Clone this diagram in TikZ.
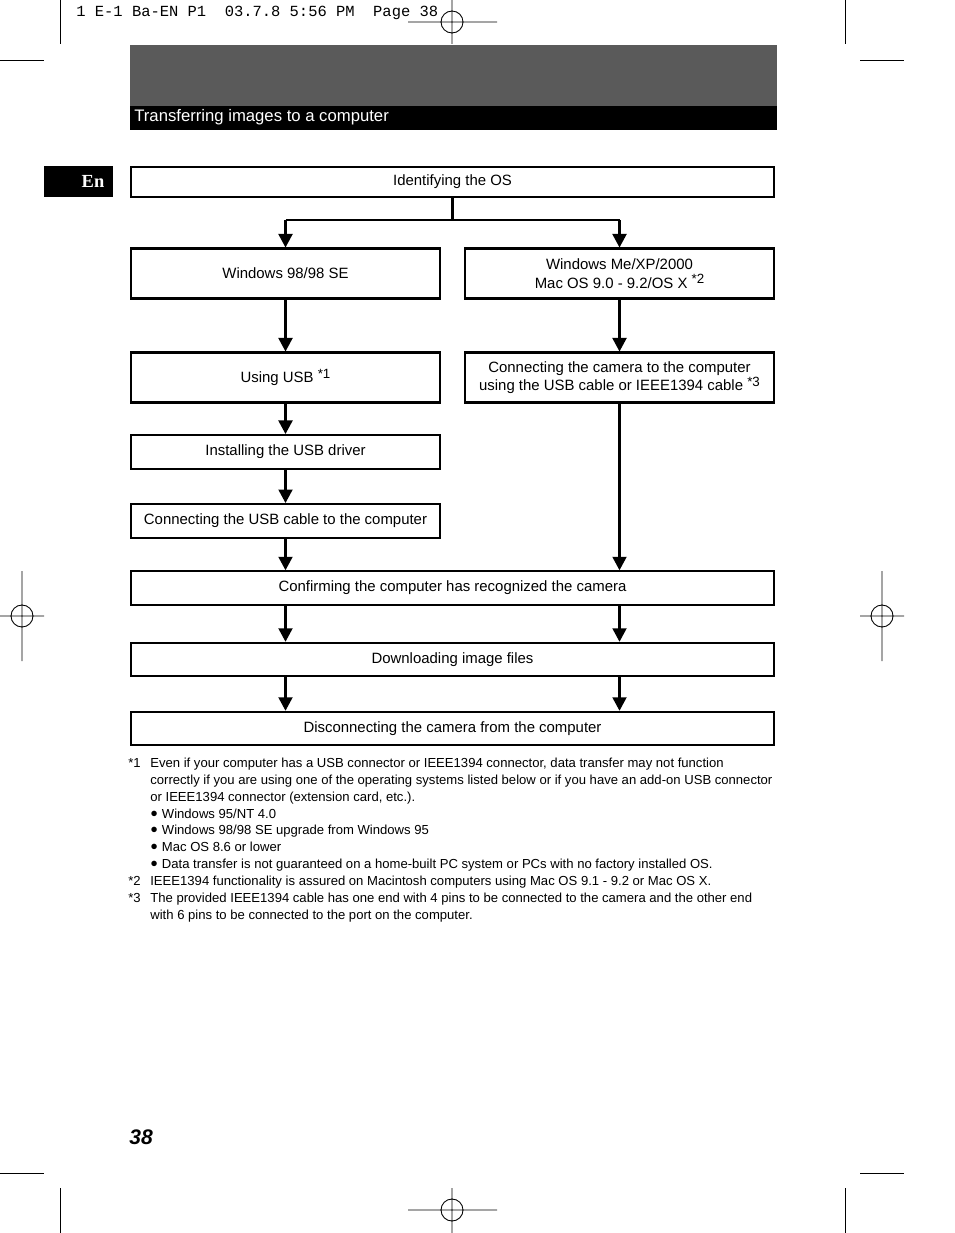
\documentclass[tikz,border=0pt]{standalone}
\usepackage{fontspec}
\setmainfont{Liberation Sans}
\newfontfamily\monofont{Liberation Mono}
\newfontfamily\enfont{Liberation Serif}
\usetikzlibrary{arrows.meta}
\definecolor{bandgray}{HTML}{5A5A5A}
\newcommand\fnmark[1]{\raisebox{0.55ex}{\fontsize{7.6}{8}\selectfont#1}}
\newcommand\dotmark{{\fontsize{7.2}{8}\selectfont\raisebox{0.1ex}{●}}\hspace{0.3em}}

\begin{document}
\begin{tikzpicture}[x=0.02cm, y=-0.02cm,
    box/.style={draw, line width=1.15pt, inner sep=0pt, align=center,
        font=\fontsize{8.5}{10.5}\selectfont},
    halfbox/.style={box, minimum width=6.2cm, minimum height=1cm},
    fullbox/.style={box, minimum width=12.86cm, minimum height=0.67cm},
    flow/.style={line width=1.15pt, -{Triangle[width=0.28cm, length=0.27cm]}},
    crop/.style={line width=0.5pt},
    note/.style={anchor=base west, inner sep=0pt, font=\fontsize{7.45}{8}\selectfont}]
    \useasboundingbox (0,0) rectangle (954,1233);

    % crop marks
    \draw[crop] (60,0) -- (60,44) (0,60) -- (44,60);
    \draw[crop] (845,0) -- (845,44) (860,60) -- (904,60);
    \draw[crop] (60,1188) -- (60,1233) (0,1173) -- (44,1173);
    \draw[crop] (845,1188) -- (845,1233) (860,1173) -- (904,1173);
    % registration marks
    \draw[crop] (408,22) -- (497,22) (452,0) -- (452,44) (452,22) circle (0.22cm);
    \draw[crop] (408,1210) -- (497,1210) (452,1188) -- (452,1233) (452,1210) circle (0.22cm);
    \draw[crop] (22,571) -- (22,661) (0,616) -- (44,616) (22,616) circle (0.22cm);
    \draw[crop] (882,571) -- (882,661) (860,616) -- (904,616) (882,616) circle (0.22cm);
    \node[anchor=base west, inner sep=0pt, font=\monofont\fontsize{8.8}{10}\selectfont]
        (slug) at (76,17) {1 E-1 Ba-EN P1\ \ 03.7.8 5:56 PM\ \ Page 38};

    % page heading
    \fill[bandgray] (130,45) rectangle (777,106);
    \fill[black] (130,106) rectangle (777,130);
    \node[anchor=base west, inner sep=0pt, text=white, font=\fontsize{9.5}{11}\selectfont]
        (title) at (134,122) {Transferring images to a computer};
    \fill[black] (44,166) rectangle (113,197);
    \node[anchor=base, inner sep=0pt, text=white, font=\enfont\bfseries\fontsize{10.5}{12}\selectfont]
        (lang) at (93,188) {En};

    % flow chart
    \node[fullbox, minimum height=0.6cm] (os) at (452.5,182) {Identifying the OS};
    \node[halfbox] (win98) at (285.5,273.5) {Windows 98/98 SE};
    \node[halfbox] (winme) at (619.5,273.5) {Windows Me/XP/2000\\Mac OS 9.0 - 9.2/OS X \fnmark{*2}};
    \node[halfbox] (usb) at (285.5,377.5) {Using USB \fnmark{*1}};
    \node[halfbox] (camera) at (619.5,377.5) {Connecting the camera to the computer\\using the USB cable or IEEE1394 cable \fnmark{*3}};
    \node[halfbox, minimum height=0.68cm] (driver) at (285.5,452) {Installing the USB driver};
    \node[halfbox, minimum height=0.68cm] (cable) at (285.5,521) {Connecting the USB cable to the computer};
    \node[fullbox] (confirm) at (452.5,588) {Confirming the computer has recognized the camera};
    \node[fullbox] (download) at (452.5,659.5) {Downloading image files};
    \node[fullbox] (disconnect) at (452.5,728.5) {Disconnecting the camera from the computer};

    \draw[line width=1.15pt] (os.south) -- ++(0,22) coordinate (split);
    \draw[line width=1.15pt] (split -| win98) -- (split -| winme);
    \draw[flow] (split -| win98) -- (win98.north);
    \draw[flow] (split -| winme) -- (winme.north);
    \draw[flow] (win98) -- (usb);
    \draw[flow] (usb) -- (driver);
    \draw[flow] (driver) -- (cable);
    \draw[flow] (cable.south) -- (confirm.north -| cable);
    \draw[flow] (winme) -- (camera);
    \draw[flow] (camera.south) -- (confirm.north -| camera);
    \draw[flow] (confirm.south -| cable) -- (download.north -| cable);
    \draw[flow] (confirm.south -| camera) -- (download.north -| camera);
    \draw[flow] (download.south -| cable) -- (disconnect.north -| cable);
    \draw[flow] (download.south -| camera) -- (disconnect.north -| camera);

    % footnotes
    \node[note] (m1) at (128,767) {*1};
    \node[note] (n1a) at (150,767) {Even if your computer has a USB connector or IEEE1394 connector, data transfer may not function};
    \node[note] (n1b) at (150,784) {correctly if you are using one of the operating systems listed below or if you have an add-on USB connector};
    \node[note] (n1c) at (150,801) {or IEEE1394 connector (extension card, etc.).};
    \node[note] (b1) at (150,818) {\dotmark Windows 95/NT 4.0};
    \node[note] (b2) at (150,834) {\dotmark Windows 98/98 SE upgrade from Windows 95};
    \node[note] (b3) at (150,851) {\dotmark Mac OS 8.6 or lower};
    \node[note] (b4) at (150,868) {\dotmark Data transfer is not guaranteed on a home-built PC system or PCs with no factory installed OS.};
    \node[note] (m2) at (128,885) {*2};
    \node[note] (n2) at (150,885) {IEEE1394 functionality is assured on Macintosh computers using Mac OS 9.1 - 9.2 or Mac OS X.};
    \node[note] (m3) at (128,902) {*3};
    \node[note] (n3a) at (150,902) {The provided IEEE1394 cable has one end with 4 pins to be connected to the camera and the other end};
    \node[note] (n3b) at (150,919) {with 6 pins to be connected to the port on the computer.};

    % page number
    \node[anchor=base west, inner sep=0pt, font=\bfseries\itshape\fontsize{12}{14}\selectfont]
        (page) at (129,1144) {38};
\end{tikzpicture}
\end{document}
